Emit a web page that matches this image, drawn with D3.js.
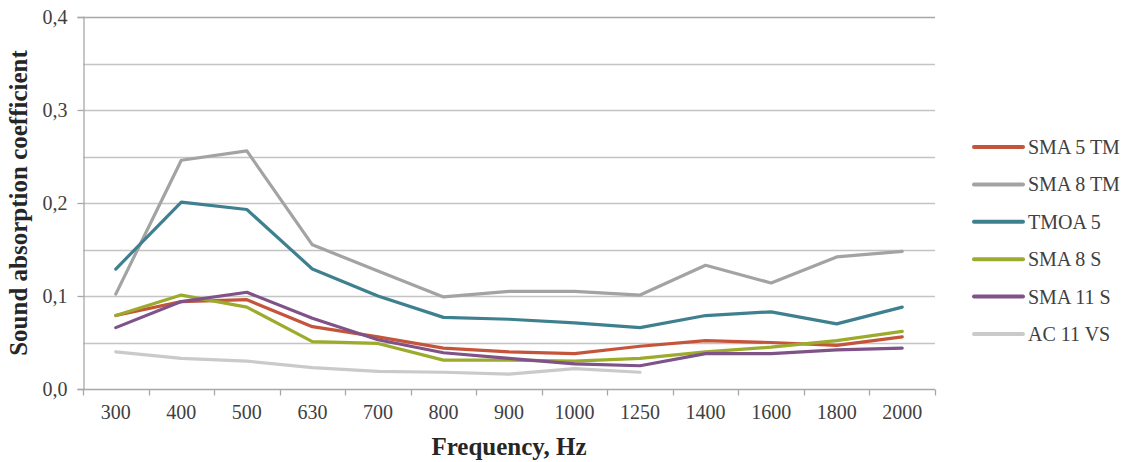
<!DOCTYPE html>
<html>
<head>
<meta charset="utf-8">
<script src="https://cdn.jsdelivr.net/npm/d3@7"></script>
<style>
  body { margin: 0; background: #fff; }
</style>
</head>
<body>
<div id="chart"></div>
<script>
// categories on the x axis
const frequencies = ["300", "400", "500", "630", "700", "800", "900", "1000", "1250", "1400", "1600", "1800", "2000"];

// series values
const sma5tm = [0.079, 0.094, 0.096, 0.067, 0.056, 0.044, 0.040, 0.038, 0.046, 0.052, 0.050, 0.047, 0.056];
const sma8tm = [0.102, 0.246, 0.256, 0.155, 0.127, 0.099, 0.105, 0.105, 0.101, 0.133, 0.114, 0.142, 0.148];
const tmoa5  = [0.129, 0.201, 0.193, 0.129, 0.100, 0.077, 0.075, 0.071, 0.066, 0.079, 0.083, 0.070, 0.088];
const sma8s  = [0.079, 0.101, 0.088, 0.051, 0.049, 0.031, 0.031, 0.030, 0.033, 0.040, 0.045, 0.052, 0.062];
const sma11s = [0.066, 0.094, 0.104, 0.076, 0.053, 0.039, 0.033, 0.027, 0.025, 0.038, 0.038, 0.042, 0.044];
const ac11vs = [0.040, 0.033, 0.030, 0.023, 0.019, 0.018, 0.016, 0.022, 0.018, null, null, null, null];

const seriesNames = ["SMA 5 TM", "SMA 8 TM", "TMOA 5", "SMA 8 S", "SMA 11 S", "AC 11 VS"];
const seriesValues = [sma5tm, sma8tm, tmoa5, sma8s, sma11s, ac11vs];
const seriesColors = ["#c4553a", "#a3a3a3", "#3f8090", "#9dab2c", "#7f5288", "#cacaca"];

// y ticks: gridlines every 0.05, labels every 0.1
const yGridTicks = [0, 0.05, 0.1, 0.15, 0.2, 0.25, 0.3, 0.35, 0.4];
const yLabelTicks = [0, 0.1, 0.2, 0.3, 0.4];

const width = 1133, height = 462;
const margin = { top: 17, right: 198, bottom: 73, left: 83 };
const serif = "Liberation Serif, Times New Roman, Times, serif";

const svg = d3.select("#chart").append("svg")
  .attr("width", width)
  .attr("height", height)
  .attr("font-family", serif);

const x = d3.scaleBand()
  .domain(frequencies)
  .range([margin.left, width - margin.right]);

const y = d3.scaleLinear()
  .domain([0, 0.4])
  .range([height - margin.bottom, margin.top]);

// gridlines
svg.append("g")
  .selectAll("line")
  .data(yGridTicks.filter(d => d > 0))
  .enter()
  .append("line")
  .attr("x1", margin.left)
  .attr("x2", width - margin.right)
  .attr("y1", d => Math.round(y(d)) + 0.5)
  .attr("y2", d => Math.round(y(d)) + 0.5)
  .attr("stroke", d => d === 0.4 ? "#a8a8a8" : "#c4c4c4")
  .attr("stroke-width", 1.3);

// y axis
const fmt = d => d3.format(".1f")(d).replace(".", ",");
const yAxis = svg.append("g")
  .attr("transform", `translate(${margin.left + 0.5},0)`)
  .call(d3.axisLeft(y).tickValues(yLabelTicks).tickFormat(fmt).tickSize(6).tickPadding(10));
yAxis.attr("font-family", serif).attr("font-size", 20);
yAxis.select(".domain").attr("stroke", "#a8a8a8").attr("stroke-width", 1.3);
yAxis.selectAll(".tick line").attr("stroke", "#a8a8a8").attr("stroke-width", 1.3);
yAxis.selectAll(".tick text")
  .attr("font-family", serif)
  .attr("font-size", 20)
  .attr("fill", "#404040");

// x axis with ticks at category boundaries
const xAxisG = svg.append("g")
  .attr("transform", `translate(0,${Math.round(y(0)) + 0.5})`);
xAxisG.append("line")
  .attr("x1", margin.left)
  .attr("x2", width - margin.right)
  .attr("stroke", "#a8a8a8")
  .attr("stroke-width", 1.3);
const boundaries = frequencies.map(f => x(f)).concat([x(frequencies[frequencies.length - 1]) + x.bandwidth()]);
xAxisG.selectAll("line.tick")
  .data(boundaries)
  .enter()
  .append("line")
  .attr("class", "tick")
  .attr("x1", d => Math.round(d) + 0.5)
  .attr("x2", d => Math.round(d) + 0.5)
  .attr("y1", 0)
  .attr("y2", 6)
  .attr("stroke", "#a8a8a8")
  .attr("stroke-width", 1.3);
xAxisG.selectAll("text")
  .data(frequencies)
  .enter()
  .append("text")
  .attr("x", d => x(d) + x.bandwidth() / 2)
  .attr("y", 29)
  .attr("text-anchor", "middle")
  .attr("font-family", serif)
  .attr("font-size", 20)
  .attr("fill", "#404040")
  .text(d => d);

// lines
const line = d3.line()
  .defined(d => d.v !== null)
  .x(d => x(d.f) + x.bandwidth() / 2)
  .y(d => y(d.v));

seriesValues.forEach((vals, i) => {
  svg.append("path")
    .datum(vals.map((v, j) => ({ f: frequencies[j], v })))
    .attr("fill", "none")
    .attr("stroke", seriesColors[i])
    .attr("stroke-width", 3.2)
    .attr("stroke-linejoin", "round")
    .attr("stroke-linecap", "round")
    .attr("d", line);
});

// legend
const legend = svg.append("g").attr("transform", "translate(973,147)");
seriesNames.forEach((name, i) => {
  const g = legend.append("g").attr("transform", `translate(0,${i * 37.4})`);
  g.append("line")
    .attr("x1", 1).attr("x2", 50)
    .attr("stroke", seriesColors[i])
    .attr("stroke-width", 4)
    .attr("stroke-linecap", "round");
  g.append("text")
    .attr("x", 55)
    .attr("y", 7)
    .attr("font-family", serif)
    .attr("font-size", 20)
    .attr("fill", "#404040")
    .text(name);
});

// axis titles
svg.append("text")
  .attr("x", x.range()[0] + (x.range()[1] - x.range()[0]) / 2)
  .attr("y", 455)
  .attr("text-anchor", "middle")
  .attr("font-family", serif)
  .attr("font-size", 25)
  .attr("font-weight", "bold")
  .attr("fill", "#262626")
  .text("Frequency, Hz");

svg.append("text")
  .attr("transform", "translate(27,203) rotate(-90)")
  .attr("text-anchor", "middle")
  .attr("font-family", serif)
  .attr("font-size", 25)
  .attr("font-weight", "bold")
  .attr("fill", "#262626")
  .text("Sound absorption coefficient");
</script>
</body>
</html>
